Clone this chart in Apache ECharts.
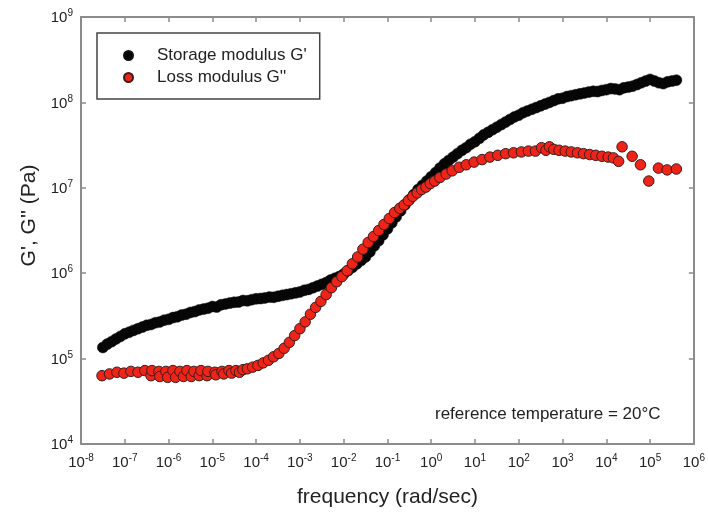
<!DOCTYPE html>
<html><head><meta charset="utf-8">
<script src="https://cdn.jsdelivr.net/npm/echarts@6/dist/echarts.min.js"></script>
<style>html,body{margin:0;padding:0;background:#fff}#c{width:708px;height:513px}</style>
</head><body><div id="c"></div><script>
// Storage modulus G' (black)
const storageFreq = [
3.16e-8,3.98e-8,5.01e-8,6.31e-8,7.94e-8,1.0e-7,
1.26e-7,1.58e-7,2.0e-7,2.51e-7,3.16e-7,3.98e-7,5.01e-7,6.31e-7,7.94e-7,1.0e-6,
1.26e-6,1.58e-6,2.0e-6,2.51e-6,3.16e-6,3.98e-6,5.01e-6,6.31e-6,7.94e-6,1.0e-5,
1.26e-5,1.58e-5,2.0e-5,2.51e-5,3.16e-5,3.98e-5,5.01e-5,6.31e-5,7.94e-5,1.0e-4,
1.26e-4,1.58e-4,2.0e-4,2.51e-4,3.16e-4,3.98e-4,5.01e-4,6.31e-4,7.94e-4,1.0e-3,
1.26e-3,1.58e-3,2.0e-3,2.51e-3,3.16e-3,3.98e-3,5.01e-3,6.31e-3,7.94e-3,1.0e-2,
1.26e-2,1.58e-2,2.0e-2,2.51e-2,3.16e-2,3.98e-2,5.01e-2,6.31e-2,7.94e-2,0.1,
0.126,0.158,0.2,0.251,0.316,0.398,0.501,0.631,0.794,1,
1.26,1.58,2.0,2.51,3.16,3.98,5.01,6.31,7.94,10,
12.6,15.8,20,25.1,31.6,39.8,50.1,63.1,79.4,100,
126,158,200,251,316,398,501,631,794,1000,
1260,1580,2000,2510,3160,3980,5010,6310,7940,1.0e4,
1.26e4,1.58e4,2.0e4,2.51e4,3.16e4,3.98e4,5.01e4,6.31e4,7.94e4,1.0e5,
1.26e5,1.58e5,2.0e5,2.51e5,3.16e5,3.98e5
];
const storageG = [
1.35e5,1.48e5,1.58e5,1.70e5,1.82e5,1.95e5,
2.04e5,2.14e5,2.24e5,2.34e5,2.45e5,2.51e5,2.63e5,2.69e5,2.82e5,2.88e5,
3.02e5,3.09e5,3.24e5,3.31e5,3.47e5,3.55e5,3.72e5,3.80e5,3.89e5,4.07e5,
4.02e5,4.27e5,4.37e5,4.47e5,4.57e5,4.60e5,4.79e5,4.75e5,4.90e5,5.01e5,
5.05e5,5.13e5,5.25e5,5.22e5,5.37e5,5.50e5,5.62e5,5.75e5,5.89e5,6.03e5,
6.31e5,6.46e5,6.76e5,7.08e5,7.41e5,7.76e5,8.32e5,8.71e5,9.12e5,9.77e5,
1.07e6,1.17e6,1.29e6,1.41e6,1.55e6,1.78e6,2.09e6,2.40e6,2.82e6,3.31e6,
3.89e6,4.57e6,5.37e6,6.31e6,7.24e6,8.32e6,9.55e6,1.07e7,1.20e7,1.35e7,
1.51e7,1.70e7,1.91e7,2.09e7,2.29e7,2.51e7,2.75e7,2.95e7,3.24e7,3.47e7,
3.80e7,4.17e7,4.47e7,4.79e7,5.13e7,5.50e7,5.89e7,6.31e7,6.76e7,7.08e7,
7.59e7,7.94e7,8.32e7,8.71e7,9.12e7,9.55e7,1.00e8,1.05e8,1.10e8,1.12e8,
1.17e8,1.20e8,1.23e8,1.26e8,1.29e8,1.32e8,1.35e8,1.34e8,1.38e8,1.41e8,
1.45e8,1.44e8,1.41e8,1.48e8,1.51e8,1.55e8,1.62e8,1.70e8,1.78e8,1.86e8,
1.78e8,1.70e8,1.66e8,1.74e8,1.78e8,1.82e8
];
// Loss modulus G'' (red)
const lossFreq = [
3.02e-8,4.47e-8,6.61e-8,9.55e-8,1.38e-7,2.00e-7,2.88e-7,3.98e-7,4.17e-7,6.03e-7,
6.31e-7,8.71e-7,9.55e-7,1.26e-6,1.45e-6,1.82e-6,2.19e-6,2.63e-6,3.31e-6,3.80e-6,
5.01e-6,5.50e-6,7.59e-6,7.94e-6,1.15e-5,1.20e-5,1.66e-5,1.82e-5,2.40e-5,2.75e-5,
3.47e-5,4.17e-5,5.01e-5,6.31e-5,8.32e-5,1.10e-4,1.45e-4,1.91e-4,2.51e-4,3.31e-4,
4.37e-4,5.75e-4,7.59e-4,1.00e-3,1.32e-3,1.74e-3,2.29e-3,3.02e-3,3.98e-3,5.25e-3,
6.92e-3,9.12e-3,1.20e-2,1.58e-2,2.09e-2,2.75e-2,3.63e-2,4.79e-2,6.31e-2,8.32e-2,
0.110,0.145,0.191,0.240,0.302,0.380,0.479,0.603,0.759,0.955,
1.20,1.58,2.19,3.02,4.37,6.31,9.55,14.5,21.9,33.1,
50.1,75.9,115,166,240,331,417,501,631,832,
1150,1580,2190,3020,4170,5750,7940,1.10e4,1.45e4,1.91e4,
2.29e4,3.89e4,6.03e4,9.33e4,1.55e5,2.45e5,3.98e5
];
const lossG = [
6.31e4,6.61e4,6.92e4,6.76e4,7.08e4,6.92e4,7.24e4,6.31e4,7.24e4,7.08e4,
6.17e4,7.08e4,6.03e4,7.24e4,6.03e4,7.08e4,6.17e4,7.24e4,6.17e4,7.08e4,
6.31e4,7.24e4,6.31e4,7.08e4,6.92e4,6.46e4,7.08e4,6.61e4,7.24e4,6.76e4,
7.24e4,6.92e4,7.41e4,7.59e4,7.94e4,8.32e4,8.91e4,9.55e4,1.05e5,1.15e5,
1.32e5,1.55e5,1.86e5,2.24e5,2.69e5,3.31e5,3.98e5,4.68e5,5.62e5,6.76e5,
7.94e5,9.12e5,1.07e6,1.29e6,1.55e6,1.91e6,2.29e6,2.69e6,3.16e6,3.72e6,
4.37e6,5.13e6,5.75e6,6.31e6,7.08e6,7.94e6,8.71e6,9.55e6,1.02e7,1.12e7,
1.20e7,1.32e7,1.45e7,1.58e7,1.74e7,1.86e7,2.00e7,2.14e7,2.29e7,2.40e7,
2.51e7,2.57e7,2.63e7,2.69e7,2.69e7,2.95e7,2.75e7,3.02e7,2.82e7,2.75e7,
2.69e7,2.63e7,2.57e7,2.51e7,2.45e7,2.40e7,2.34e7,2.29e7,2.24e7,2.04e7,
3.02e7,2.34e7,1.86e7,1.20e7,1.70e7,1.62e7,1.66e7
];
// Tick labels (exponents of ten)
const xTickExponents = [-8,-7,-6,-5,-4,-3,-2,-1,0,1,2,3,4,5,6];
const yTickExponents = [4,5,6,7,8,9];
const seriesNames = ["Storage modulus G'", "Loss modulus G''"];
const xTitle = 'frequency (rad/sec)';
const yTitle = "G', G'' (Pa)";
const annotation = 'reference temperature = 20°C';

const F = "'Liberation Sans', Arial, Helvetica, sans-serif";
const TXT = '#222';
const AX = '#8c8c8c';
const rich = {
  b: {fontSize: 15, color: TXT, fontFamily: F, verticalAlign: 'bottom'},
  s: {fontSize: 10, color: TXT, fontFamily: F, verticalAlign: 'bottom', padding: [0, 0, 7, 0]}
};
function fmt(list) {
  return function (v) {
    const e = Math.round(Math.log10(v));
    return list.includes(e) ? '{b|10}{s|' + e + '}' : '';
  };
}
const chart = echarts.init(document.getElementById('c'), null, {renderer: 'canvas'});
const axisLineStyle = {show: true, lineStyle: {color: AX, width: 2}};
const tickStyle = {show: true, inside: true, length: 5, lineStyle: {color: AX, width: 1.5}};
chart.setOption({
  animation: false,
  backgroundColor: '#fff',
  grid: {left: 81, right: 13, top: 17, bottom: 68, containLabel: false},
  legend: {
    orient: 'vertical', left: 97, top: 33,
    padding: [14, 13, 13, 26], itemWidth: 47, itemHeight: 9, itemGap: 5,
    borderColor: '#444', borderWidth: 1.5, borderRadius: 0,
    textStyle: {fontSize: 17, color: TXT, fontFamily: F, lineHeight: 17},
    data: seriesNames
  },
  xAxis: [{
    type: 'log', logBase: 10, min: 1e-8, max: 1e6, interval: 1,
    name: xTitle, nameLocation: 'middle', nameGap: 43,
    nameTextStyle: {fontSize: 21, color: TXT, fontFamily: F},
    axisLine: axisLineStyle, axisTick: tickStyle, splitLine: {show: false}, minorTick: {show: false},
    axisLabel: {margin: 9, interval: 0, formatter: fmt(xTickExponents), rich: rich, showMinLabel: true, showMaxLabel: true}
  }, {
    type: 'log', logBase: 10, min: 1e-8, max: 1e6, interval: 1, position: 'top',
    axisLine: axisLineStyle, axisTick: tickStyle, splitLine: {show: false}, axisLabel: {show: false}
  }],
  yAxis: [{
    type: 'log', logBase: 10, min: 1e4, max: 1e9, interval: 1,
    name: yTitle, nameLocation: 'middle', nameGap: 32,
    nameTextStyle: {fontSize: 21, color: TXT, fontFamily: F, padding: [0, 0, 0, 30]},
    axisLine: axisLineStyle, axisTick: tickStyle, splitLine: {show: false},
    axisLabel: {margin: 8, formatter: fmt(yTickExponents), rich: rich, showMinLabel: true, showMaxLabel: true}
  }, {
    type: 'log', logBase: 10, min: 1e4, max: 1e9, interval: 1, position: 'right',
    axisLine: axisLineStyle, axisTick: tickStyle, splitLine: {show: false}, axisLabel: {show: false}
  }],
  series: [{
    name: seriesNames[0], type: 'scatter', symbol: 'circle', symbolSize: 11,
    itemStyle: {color: '#050505', borderColor: '#111', borderWidth: 0.5, opacity: 1},
    data: storageFreq.map((f, i) => [f, storageG[i]])
  }, {
    name: seriesNames[1], type: 'scatter', symbol: 'circle', symbolSize: 10.5,
    itemStyle: {color: '#ee2418', borderColor: '#3a1c1c', borderWidth: 1, opacity: 1},
    data: lossFreq.map((f, i) => [f, lossG[i]])
  }],
  graphic: [{
    type: 'text', left: 435, top: 406,
    style: {text: annotation, font: "17px 'Liberation Sans', Arial, sans-serif", fill: TXT}
  }]
});
</script></body></html>
